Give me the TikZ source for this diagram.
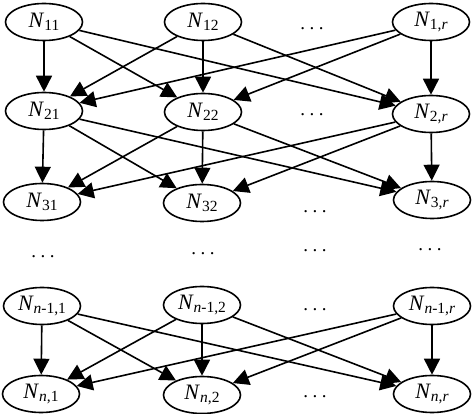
\documentclass[tikz,border=0pt]{standalone}
\usepackage{fontspec}
\setmainfont{Liberation Serif}
\usetikzlibrary{arrows.meta,shapes.geometric}
\newcommand\lab[1]{\textit{N}\raisebox{-3pt}{\fontsize{15.5}{15.5}\selectfont #1}}
\newcommand\tdots{.\kern4.5pt.\kern4.5pt.}
\begin{document}
\begin{tikzpicture}[x=1pt,y=-1pt,
  nd/.style={ellipse, draw, line width=1.6pt, minimum width=77pt, minimum height=37pt, inner sep=0pt, font=\fontsize{22}{22}\selectfont},
  ar/.style={-{Triangle[length=16pt,width=16pt]}, line width=1.6pt},
  dt/.style={font=\fontsize{19}{19}\selectfont, anchor=base, inner sep=0pt}]
\useasboundingbox (0,0) rectangle (472,414);
% row 1
\node[nd] (a1) at (44,22) {\lab{11}};
\node[nd] (a2) at (203,22) {\lab{12}};
\node[nd] (a3) at (431,22) {\lab{1,\textit{r}}};
% row 2
\node[nd] (b1) at (44,111) {\lab{21}};
\node[nd] (b2) at (203,112) {\lab{22}};
\node[nd] (b3) at (431,114) {\lab{2,\textit{r}}};
% row 3
\node[nd] (c1) at (42,202) {\lab{31}};
\node[nd] (c2) at (202,203) {\lab{32}};
\node[nd] (c3) at (432,200) {\lab{3,\textit{r}}};
% row n-1
\node[nd] (d1) at (42,306) {\lab{\textit{n}-1,1}};
\node[nd] (d2) at (202,305) {\lab{\textit{n}-1,2}};
\node[nd] (d3) at (432,306) {\lab{\textit{n}-1,\textit{r}}};
% row n
\node[nd] (e1) at (41,394) {\lab{\textit{n},1}};
\node[nd] (e2) at (202,395) {\lab{\textit{n},2}};
\node[nd] (e3) at (432,394) {\lab{\textit{n},\textit{r}}};
% dots
\node[dt] (t1) at (312,30) {\tdots};
\node[dt] (t2) at (312,116) {\tdots};
\node[dt] (t3) at (315,213) {\tdots};
\node[dt] (t4) at (43,258) {\tdots};
\node[dt] (t5) at (203,255) {\tdots};
\node[dt] (t6) at (315,252) {\tdots};
\node[dt] (t7) at (430,251) {\tdots};
\node[dt] (t8) at (315,311) {\tdots};
\node[dt] (t9) at (315,398) {\tdots};
% edges
\foreach \u/\v in {a/b, b/c, d/e}{
  \foreach \i in {1,2,3}{
    \foreach \j in {1,2,3}{
      \draw[ar] (\u\i) -- (\v\j);
    }
  }
}
\end{tikzpicture}
\end{document}
